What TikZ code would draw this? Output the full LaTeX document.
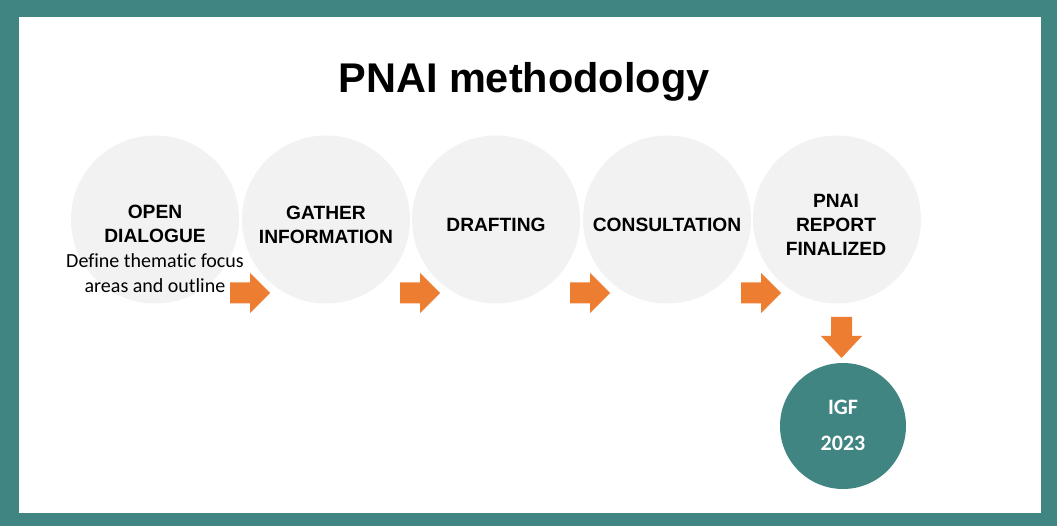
\documentclass[tikz,border=0pt]{standalone}
\usepackage{fontspec}
\setmainfont{Liberation Sans}
\newfontfamily\calfont[Ligatures=NoCommon]{Carlito}
\definecolor{teal}{HTML}{418583}
\definecolor{orng}{HTML}{ED7D31}
\definecolor{lgray}{HTML}{F2F2F2}
\begin{document}
\begin{tikzpicture}[x=1pt,y=-1pt,
  stepcircle/.style={circle,fill=lgray,minimum size=168pt,inner sep=0pt},
  endcircle/.style={circle,fill=teal,minimum size=126pt,inner sep=0pt},
  steplabel/.style={font=\bfseries\fontsize{19.2}{24}\selectfont,align=center,inner sep=0pt,text=black},
  subtext/.style={font=\calfont\fontsize{20}{24.5}\selectfont,align=center,inner sep=0pt},
  endlabel/.style={font=\calfont\bfseries\fontsize{22}{36}\selectfont,align=center,text=white,inner sep=0pt},
  rarrow/.pic={\fill[orng] (0,-10.5) -- (20,-10.5) -- (20,-20) -- (40,0) -- (20,20) -- (20,10.5) -- (0,10.5) -- cycle;},
  darrow/.pic={\fill[orng] (-10.5,0) -- (-10.5,19) -- (-20.5,19) -- (0,41) -- (20.5,19) -- (10.5,19) -- (10.5,0) -- cycle;}
]
\useasboundingbox (0,0) rectangle (1057,526);
\fill[teal] (0,0) rectangle (1057,526);
\fill[white] (19,17) rectangle (1041,513);

\node[font=\bfseries\fontsize{41.5}{48}\selectfont,inner sep=0pt] (title) at (524,82) {PNAI methodology};

\node[stepcircle] (c1) at (155,219.5) {};
\node[stepcircle] (c2) at (326,219.5) {};
\node[stepcircle] (c3) at (496,219.5) {};
\node[stepcircle] (c4) at (667,219.5) {};
\node[stepcircle] (c5) at (837,219.5) {};

\node[steplabel] (t1) at (155,224) {OPEN\\DIALOGUE};
\node[subtext] (s1) at (155,273) {Define thematic focus\\areas and outline};
\node[steplabel] (t2) at (326,225) {GATHER\\INFORMATION};
\node[steplabel] (t3) at (496,225) {DRAFTING};
\node[steplabel] (t4) at (667,225) {CONSULTATION};
\node[steplabel] (t5) at (836,225) {PNAI\\REPORT\\FINALIZED};

\pic at (230,293) {rarrow};
\pic at (400,293) {rarrow};
\pic at (570,293) {rarrow};
\pic at (741,293) {rarrow};
\pic at (841.5,317) {darrow};

\node[endcircle] (igf) at (843,426) {};
\node[endlabel] (igft) at (843,425) {IGF\\2023};
\end{tikzpicture}
\end{document}
